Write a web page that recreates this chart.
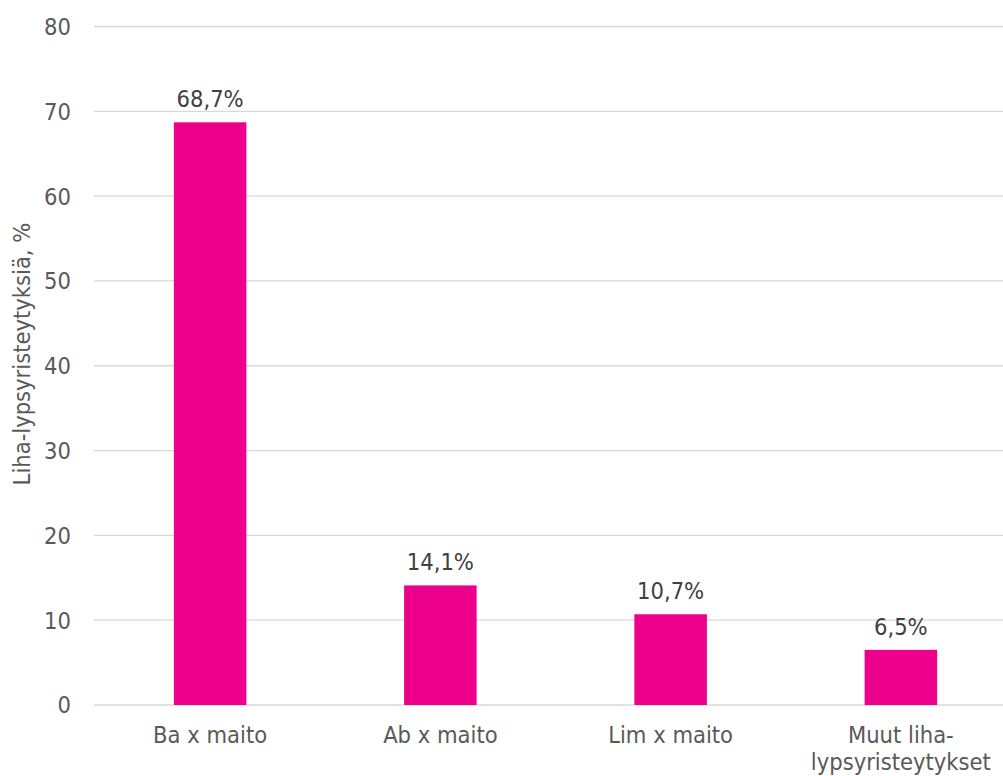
<!DOCTYPE html>
<html>
<head>
<meta charset="utf-8">
<script src="https://cdn.jsdelivr.net/npm/d3@7"></script>
<style>
  body { margin: 0; background: #fff; }
  text { font-family: 'DejaVu Sans Condensed', 'DejaVu Sans', sans-serif; }
</style>
</head>
<body>
<div id="chart"></div>
<script>
var categories = ['Ba x maito', 'Ab x maito', 'Lim x maito', 'Muut liha-|lypsyristeytykset']
var values = [68.7, 14.1, 10.7, 6.5]
var valueLabels = ['68,7%', '14,1%', '10,7%', '6,5%']
var yTicks = [0, 10, 20, 30, 40, 50, 60, 70, 80]

var width = 1003
var height = 776
var margin = { top: 26.5, left: 95, right: -13, bottom: 71 }

var svg = d3
  .select('#chart')
  .append('svg')
  .attr('width', width)
  .attr('height', height)

var xScale = d3
  .scaleBand()
  .domain(categories)
  .range([margin.left, width - margin.right])
  .paddingInner(0.685)
  .paddingOuter(0.3425)

var yScale = d3
  .scaleLinear()
  .domain([0, 80])
  .range([height - margin.bottom, margin.top])

// gridlines
svg
  .selectAll('.grid')
  .data(yTicks)
  .enter()
  .append('line')
  .attr('x1', 94)
  .attr('x2', width)
  .attr('y1', d => yScale(d))
  .attr('y2', d => yScale(d))
  .attr('stroke', '#d9d9d9')
  .attr('stroke-width', 1.3)

svg
  .selectAll('.y-tick')
  .data(yTicks)
  .enter()
  .append('text')
  .text(d => d)
  .attr('x', 71)
  .attr('y', d => yScale(d))
  .attr('dy', '0.36em')
  .attr('text-anchor', 'end')
  .attr('font-size', 23.5)
  .attr('fill', '#595959')

svg
  .selectAll('.bar')
  .data(values)
  .enter()
  .append('rect')
  .attr('x', (d, i) => xScale(categories[i]))
  .attr('width', xScale.bandwidth())
  .attr('y', d => yScale(d))
  .attr('height', d => yScale(0) - yScale(d))
  .attr('fill', '#ec008c')

svg
  .selectAll('.value-text')
  .data(values)
  .enter()
  .append('text')
  .text((d, i) => valueLabels[i])
  .attr('x', (d, i) => xScale(categories[i]) + xScale.bandwidth() / 2)
  .attr('y', d => yScale(d) - 15)
  .attr('text-anchor', 'middle')
  .attr('font-size', 23.5)
  .attr('fill', '#404040')

// category labels, "|" marks a line break
var catText = svg
  .selectAll('.cat-text')
  .data(categories)
  .enter()
  .append('text')
  .attr('x', d => xScale(d) + xScale.bandwidth() / 2)
  .attr('y', 743)
  .attr('text-anchor', 'middle')
  .attr('font-size', 23.5)
  .attr('fill', '#595959')

catText
  .selectAll('tspan')
  .data(d => d.split('|').map(t => ({ t: t, x: xScale(d) + xScale.bandwidth() / 2 })))
  .enter()
  .append('tspan')
  .attr('x', d => d.x)
  .attr('dy', (d, i) => (i === 0 ? 0 : 27))
  .text(d => d.t)

svg
  .append('text')
  .text('Liha-lypsyristeytyksiä, %')
  .attr('transform', 'translate(30,354) rotate(-90)')
  .attr('text-anchor', 'middle')
  .attr('font-size', 23.5)
  .attr('fill', '#595959')
</script>
</body>
</html>
